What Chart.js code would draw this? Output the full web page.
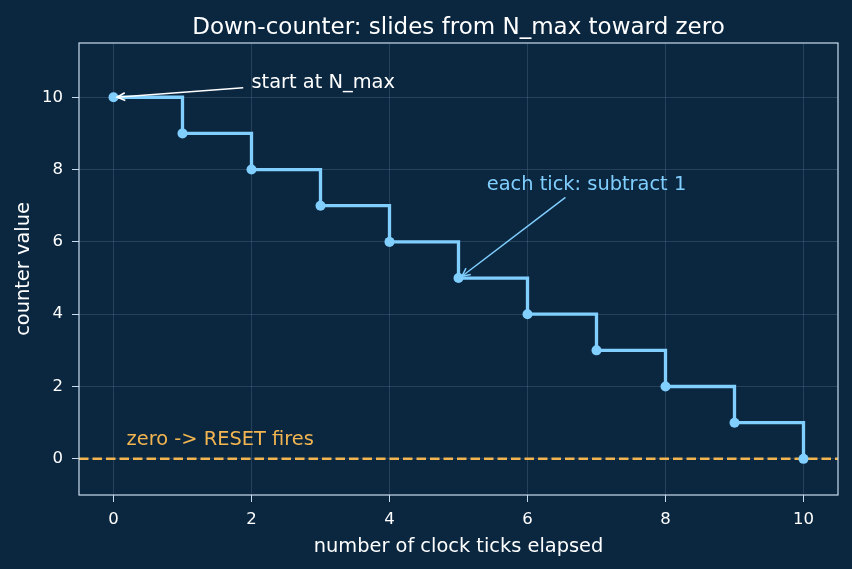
<!DOCTYPE html>
<html>
<head>
<meta charset="utf-8">
<script src="https://cdn.jsdelivr.net/npm/chart.js@4/dist/chart.umd.min.js"></script>
<style>
  html, body { margin: 0; padding: 0; background: #0b2740; }
  #wrap { width: 852px; height: 569px; }
</style>
</head>
<body>
<div id="wrap"><canvas id="chart" width="852" height="569"></canvas></div>
<script>
// dati del contatore
var ticks = [0, 1, 2, 3, 4, 5, 6, 7, 8, 9, 10];
var counter = [10, 9, 8, 7, 6, 5, 4, 3, 2, 1, 0];
var xTicks = [0, 2, 4, 6, 8, 10];
var yTicks = [0, 2, 4, 6, 8, 10];
var resetLevel = [0, 0];
var resetSpan = [-0.5, 10.5];

var bg = '#0b2740';
var stepColor = '#80cfff';
var resetColor = '#f2b550';
var spine = '#c9dcee';
var font = '"DejaVu Sans"';

var stepData = ticks.map(function(t, i) { return {x: t, y: counter[i]}; });
var resetData = resetSpan.map(function(t, i) { return {x: t, y: resetLevel[i]}; });

// Disegna una freccia in coordinate pixel
function arrow(ctx, x1, y1, x2, y2, color) {
    var a = Math.atan2(y2 - y1, x2 - x1);
    ctx.strokeStyle = color;
    ctx.lineWidth = 1.5;
    ctx.beginPath();
    ctx.moveTo(x1, y1);
    ctx.lineTo(x2, y2);
    ctx.stroke();
    ctx.beginPath();
    ctx.moveTo(x2 - 9 * Math.cos(a - 0.45), y2 - 9 * Math.sin(a - 0.45));
    ctx.lineTo(x2, y2);
    ctx.lineTo(x2 - 9 * Math.cos(a + 0.45), y2 - 9 * Math.sin(a + 0.45));
    ctx.stroke();
}

var decor = {
    id: 'decor',
    beforeDraw: function(chart) {
        var ctx = chart.ctx;
        ctx.save();
        ctx.fillStyle = bg;
        ctx.fillRect(0, 0, chart.width, chart.height);
        ctx.restore();
    },
    afterDraw: function(chart) {
        var ctx = chart.ctx;
        var xs = chart.scales.x, ys = chart.scales.y;
        var area = chart.chartArea;
        var midX = (area.left + area.right) / 2;
        var midY = (area.top + area.bottom) / 2;
        ctx.save();

        // cornice
        ctx.strokeStyle = spine;
        ctx.lineWidth = 1.2;
        ctx.strokeRect(area.left, area.top, area.right - area.left, area.bottom - area.top);

        // titolo e titoli degli assi
        ctx.fillStyle = '#ffffff';
        ctx.textAlign = 'center';
        ctx.textBaseline = 'alphabetic';
        ctx.font = '23px ' + font;
        ctx.fillText('Down-counter: slides from N_max toward zero', midX, 34);
        ctx.font = '19.4px ' + font;
        ctx.fillText('number of clock ticks elapsed', midX, 552);
        ctx.save();
        ctx.translate(28.5, midY);
        ctx.rotate(-Math.PI / 2);
        ctx.fillText('counter value', 0, 0);
        ctx.restore();

        // annotazioni
        ctx.textAlign = 'left';
        ctx.fillStyle = '#ffffff';
        ctx.fillText('start at N_max', xs.getPixelForValue(2.0), ys.getPixelForValue(10.25));
        arrow(ctx, xs.getPixelForValue(1.88), ys.getPixelForValue(10.26),
              xs.getPixelForValue(0.05), ys.getPixelForValue(10.0), '#ffffff');

        ctx.fillStyle = stepColor;
        ctx.fillText('each tick: subtract 1', xs.getPixelForValue(5.41), ys.getPixelForValue(7.44));
        arrow(ctx, xs.getPixelForValue(6.55), ys.getPixelForValue(7.23),
              xs.getPixelForValue(5.05), ys.getPixelForValue(5.05), stepColor);

        ctx.fillStyle = resetColor;
        ctx.fillText('zero -> RESET fires', xs.getPixelForValue(0.19), ys.getPixelForValue(0.39));
        ctx.restore();
    }
};

new Chart(document.getElementById('chart'), {
    type: 'scatter',
    data: {
        datasets: [{
            data: stepData,
            showLine: true,
            stepped: true,
            borderColor: stepColor,
            backgroundColor: stepColor,
            borderWidth: 3.3,
            pointRadius: 5,
            pointBorderWidth: 0,
            pointHoverRadius: 5,
            order: 1
        }, {
            data: resetData,
            showLine: true,
            borderColor: resetColor,
            borderWidth: 2.5,
            borderDash: [9.5, 4],
            pointRadius: 0,
            order: 2
        }]
    },
    options: {
        responsive: false,
        animation: false,
        layout: { padding: { top: 43, right: 14, left: 0, bottom: 0 } },
        plugins: {
            legend: { display: false },
            tooltip: { enabled: false },
            title: { display: false }
        },
        scales: {
            x: {
                type: 'linear',
                min: -0.5,
                max: 10.5,
                afterBuildTicks: function(s) { s.ticks = xTicks.map(function(v) { return {value: v}; }); },
                afterFit: function(s) { s.height = 74; },
                ticks: { color: '#ffffff', font: { size: 16.5, family: 'DejaVu Sans' }, padding: 8, maxRotation: 0 },
                grid: { color: 'rgba(160,190,220,0.18)', tickColor: spine, tickLength: 7, drawTicks: true },
                border: { display: false }
            },
            y: {
                type: 'linear',
                min: -1,
                max: 11.5,
                afterBuildTicks: function(s) { s.ticks = yTicks.map(function(v) { return {value: v}; }); },
                afterFit: function(s) { s.width = 79; },
                ticks: { color: '#ffffff', font: { size: 16.5, family: 'DejaVu Sans' }, padding: 9 },
                grid: { color: 'rgba(160,190,220,0.18)', tickColor: spine, tickLength: 7, drawTicks: true },
                border: { display: false }
            }
        }
    },
    plugins: [decor]
});
</script>
</body>
</html>
